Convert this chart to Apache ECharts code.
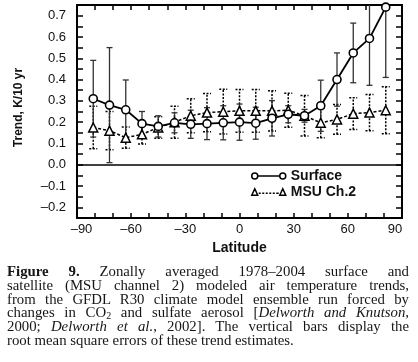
<!DOCTYPE html>
<html>
<head>
<meta charset="utf-8">
<script src="https://cdn.jsdelivr.net/npm/echarts@6/dist/echarts.min.js"></script>
<style>
html,body{margin:0;padding:0;background:#fff;}
#chart{position:absolute;left:0;top:0;width:418px;height:362px;}
#cap{position:absolute;left:7px;top:265px;width:402px;font-family:"Liberation Serif","Times New Roman",serif;font-size:14.8px;line-height:13.8px;color:#161616;}
#cap .j{text-align:justify;text-align-last:justify;white-space:nowrap;}
#cap .l{text-align:left;white-space:nowrap;}
#cap sub{font-size:10px;line-height:0;vertical-align:-2px;}
</style>
</head>
<body>
<div id="chart"></div>
<div id="cap">
<div class="j"><b>Figure 9.</b> Zonally averaged 1978–2004 surface and</div>
<div class="j">satellite (MSU channel 2) modeled air temperature trends,</div>
<div class="j">from the GFDL R30 climate model ensemble run forced by</div>
<div class="j">changes in CO<sub>2</sub> and sulfate aerosol [<i>Delworth and Knutson</i>,</div>
<div class="j">2000; <i>Delworth et al.</i>, 2002]. The vertical bars display the</div>
<div class="l">root mean square errors of these trend estimates.</div>
</div>
<script>
// ---- data ----
const latitudes   = [-81,-72,-63,-54,-45,-36,-27,-18,-9,0,9,18,27,36,45,54,63,72,81];
const surfaceTrend = [0.31,0.28,0.258,0.193,0.18,0.197,0.19,0.193,0.197,0.2,0.195,0.218,0.237,0.23,0.277,0.40,0.525,0.593,0.74];
const surfaceRmse  = [0.18,0.27,0.14,0.057,0.05,0.047,0.066,0.075,0.08,0.085,0.075,0.083,0.04,0.03,0.12,0.125,0.14,0.22,0.33];
const msuTrend     = [0.175,0.16,0.127,0.143,0.175,0.2,0.23,0.245,0.249,0.253,0.253,0.253,0.256,0.23,0.197,0.213,0.24,0.245,0.256];
const msuRmse      = [0.1,0.09,0.05,0.045,0.05,0.075,0.08,0.09,0.105,0.1,0.1,0.095,0.08,0.095,0.07,0.07,0.075,0.085,0.11];
const xTickLabels  = [-90,-60,-30,0,30,60,90];
const yTickLabels  = [-0.2,-0.1,0.0,0.1,0.2,0.3,0.4,0.5,0.6,0.7];
const seriesNames  = ['Surface','MSU Ch.2'];
const xTitle = 'Latitude';
const yTitle = 'Trend, K/10 yr';

// ---- build ----
const dash = '\u2013';
function fmtNum(v, d){ return (v < -1e-9 ? dash : '') + Math.abs(v).toFixed(d); }
function findTick(list, v){ return list.find(t => Math.abs(t - v) < 1e-6); }

const lineData = (vals) => latitudes.map((x,i) => [x, vals[i]]);
const errData = (vals, errs) => latitudes.map((x,i) => [x, vals[i]-errs[i], vals[i]+errs[i]]);

function errRender(cap, style){
  return function(params, api){
    const x = api.value(0), lo = api.value(1), hi = api.value(2);
    const p1 = api.coord([x, lo]), p2 = api.coord([x, hi]);
    return {type:'group', children:[
      {type:'line', shape:{x1:p1[0], y1:p1[1], x2:p2[0], y2:p2[1]}, style:style},
      {type:'line', shape:{x1:p1[0]-cap, y1:p1[1], x2:p1[0]+cap, y2:p1[1]}, style:style},
      {type:'line', shape:{x1:p2[0]-cap, y1:p2[1], x2:p2[0]+cap, y2:p2[1]}, style:style}
    ]};
  };
}

const font = '"Liberation Sans", Arial, Helvetica, sans-serif';
const tickStyle = {color:'#000', width:1.5};

const surfIcon = 'path://M0,4 A3,3 0 1 1 6,4 A3,3 0 1 1 0,4 Z M6,4 L28,4 M28,4 A3,3 0 1 1 34,4 A3,3 0 1 1 28,4 Z';
const msuIcon = 'path://M0,7.5 L3,1 L6,7.5 Z M7,5.5 L9,5.5 M10.5,5.5 L12.5,5.5 M14,5.5 L16,5.5 M17.5,5.5 L19.5,5.5 M21,5.5 L23,5.5 M24.5,5.5 L27,5.5 M28,7.5 L31,1 L34,7.5 Z';

const chart = echarts.init(document.getElementById('chart'), null, {renderer:'canvas'});
chart.setOption({
  animation:false,
  backgroundColor:'#fff',
  textStyle:{fontFamily:font},
  grid:{left:77, right:16, top:5, bottom:144, containLabel:false},
  legend:{
    left:251, top:169, orient:'vertical', padding:0, itemGap:2,
    itemWidth:34, itemHeight:8,
    itemStyle:{color:'rgba(255,255,255,0)', borderColor:'#000', borderWidth:1.5},
    textStyle:{fontFamily:font, fontWeight:'bold', fontSize:14, color:'#111', lineHeight:14},
    data:[{name:seriesNames[0], icon:surfIcon},{name:seriesNames[1], icon:msuIcon}]
  },
  xAxis:[{
    type:'value', min:-90, max:90, interval:10, position:'bottom',
    name:xTitle, nameLocation:'middle', nameGap:21,
    nameTextStyle:{fontFamily:font, fontWeight:'bold', fontSize:14, color:'#111'},
    axisLine:{show:true, onZero:false, lineStyle:{color:'#000', width:2}},
    axisTick:{show:true, inside:true, length:5, lineStyle:tickStyle},
    splitLine:{show:false},
    axisLabel:{
      margin:5, color:'#111', fontSize:13, fontFamily:font,
      formatter:function(v){
        const t = findTick(xTickLabels, v);
        if (t === undefined) return '';
        const s = fmtNum(t, 0);
        if (t === xTickLabels[0]) return '{l|' + s + '}';
        if (t === xTickLabels[xTickLabels.length-1]) return '{r|' + s + '}';
        return s;
      },
      rich:{l:{padding:[0,0,0,9], fontSize:13, color:'#111'}, r:{padding:[0,14,0,0], fontSize:13, color:'#111'}}
    }
  },{
    type:'value', min:-90, max:90, interval:10, position:'top',
    axisLine:{show:true, onZero:false, lineStyle:{color:'#000', width:2}},
    axisTick:{show:true, inside:true, length:5, lineStyle:tickStyle},
    axisLabel:{show:false}, splitLine:{show:false}
  }],
  yAxis:[{
    type:'value', min:-0.25, max:0.75, interval:0.05, position:'left',
    name:yTitle, nameLocation:'middle', nameGap:52, nameRotate:90,
    nameTextStyle:{fontFamily:font, fontWeight:'bold', fontSize:12, color:'#111', padding:[0,0,0,8]},
    axisLine:{show:true, onZero:false, lineStyle:{color:'#000', width:2}},
    axisTick:{show:true, inside:true, length:6, lineStyle:tickStyle},
    splitLine:{show:false},
    axisLabel:{
      margin:11, color:'#111', fontSize:13, fontFamily:font,
      formatter:function(v){
        const t = findTick(yTickLabels, v);
        return t === undefined ? '' : fmtNum(t, 1);
      }
    }
  },{
    type:'value', min:-0.25, max:0.75, interval:0.05, position:'right',
    axisLine:{show:true, onZero:false, lineStyle:{color:'#000', width:2}},
    axisTick:{show:true, inside:true, length:6, lineStyle:tickStyle},
    axisLabel:{show:false}, splitLine:{show:false}
  }],
  series:[
    {
      name:'MSU error', type:'custom', xAxisIndex:0, yAxisIndex:0, clip:true, z:2,
      renderItem:errRender(4, {stroke:'#000', lineWidth:1.5, lineDash:[2,1.5]}),
      encode:{x:0, y:[1,2]},
      data:errData(msuTrend, msuRmse)
    },
    {
      name:'Surface error', type:'custom', xAxisIndex:0, yAxisIndex:0, clip:true, z:2,
      renderItem:errRender(3, {stroke:'#333', lineWidth:1.3}),
      encode:{x:0, y:[1,2]},
      data:errData(surfaceTrend, surfaceRmse)
    },
    {
      name:seriesNames[1], type:'line', xAxisIndex:0, yAxisIndex:0, z:3,
      symbol:'triangle', symbolSize:9, showAllSymbol:true,
      lineStyle:{color:'#000', width:1.5, type:[3,2]},
      itemStyle:{color:'#fff', borderColor:'#000', borderWidth:1.5},
      data:lineData(msuTrend)
    },
    {
      name:seriesNames[0], type:'line', xAxisIndex:0, yAxisIndex:0, z:4,
      symbol:'circle', symbolSize:8, showAllSymbol:true,
      lineStyle:{color:'#000', width:1.8},
      itemStyle:{color:'#fff', borderColor:'#000', borderWidth:1.6},
      markLine:{silent:true, symbol:['none','none'], label:{show:false},
        lineStyle:{color:'#000', width:1.5, type:'solid'}, data:[{yAxis:0}]},
      data:lineData(surfaceTrend)
    }
  ]
});
</script>
</body>
</html>
